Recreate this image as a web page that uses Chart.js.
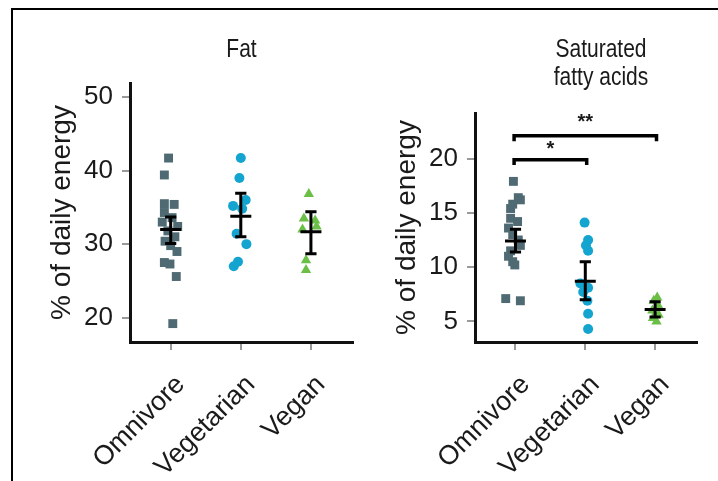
<!DOCTYPE html>
<html>
<head>
<meta charset="utf-8">
<script src="https://cdn.jsdelivr.net/npm/chart.js@4.4.0/dist/chart.umd.min.js"></script>
<style>
  body { margin: 0; background: #fff; width: 718px; height: 481px; overflow: hidden; position: relative; }
  #frame { position: absolute; left: 11px; top: 8px; width: 800px; height: 600px; border-left: 2px solid #000; border-top: 2px solid #000; }
  canvas { position: absolute; }
  #fatChart { left: 20px; top: 20px; }
  #satChart { left: 365px; top: 20px; }
</style>
</head>
<body>
<div id="frame"></div>
<canvas id="fatChart" width="345" height="461"></canvas>
<canvas id="satChart" width="353" height="461"></canvas>

<script>
// groups
const groups = ["Omnivore", "Vegetarian", "Vegan"];
const colors = ["#4f6a73", "#13a5d0", "#6bbf47"];
const shapes = ["rect", "circle", "triangle"];

// Fat (% of daily energy)
const fatOmni = [41.7, 39.4, 35.5, 35.4, 34.3, 33.6, 33.0, 32.4, 31.8, 31.0, 30.4, 29.8, 29.0, 27.5, 27.3, 25.6, 19.2];
const fatOmniJit = [-0.03, -0.09, -0.09, 0.05, -0.09, 0.02, -0.12, 0.1, -0.04, 0.06, -0.08, 0.0, 0.09, -0.09, -0.01, 0.08, 0.03];
const fatVeg = [41.7, 39.0, 36.0, 35.2, 34.8, 31.4, 30.0, 27.6, 27.0];
const fatVegJit = [0, -0.02, 0.07, -0.11, 0.02, -0.06, 0.08, -0.04, -0.1];
const fatVegan = [36.8, 33.5, 33.2, 32.4, 32.0, 27.8, 26.5];
const fatVeganJit = [-0.03, -0.1, 0.06, 0.08, -0.12, -0.07, -0.07];
const fatMean = [32.0, 33.8, 31.7];
const fatLo = [30.1, 31.0, 28.7];
const fatHi = [33.7, 36.9, 34.4];
const fatTicks = [20, 30, 40, 50];

// Saturated fatty acids (% of daily energy)
const satOmni = [17.9, 16.4, 16.2, 15.8, 15.4, 14.5, 14.2, 13.6, 13.0, 12.5, 12.0, 11.5, 11.0, 10.5, 10.2, 7.1, 6.9];
const satOmniJit = [-0.03, 0.04, 0.07, -0.04, -0.07, -0.07, 0.03, -0.1, -0.04, 0.04, 0.07, -0.07, -0.1, -0.04, -0.01, -0.14, 0.07];
const satVeg = [14.1, 12.5, 12.0, 11.5, 8.5, 8.1, 7.7, 6.9, 5.7, 4.3];
const satVegJit = [-0.01, 0.04, 0.01, 0.04, -0.07, 0.04, -0.03, 0.03, 0.04, 0.04];
const satVegan = [7.2, 6.9, 6.4, 6.0, 5.6, 5.3, 5.0];
const satVeganJit = [0.03, -0.02, 0.05, -0.04, 0.05, -0.03, 0.02];
const satMean = [12.4, 8.7, 6.1];
const satLo = [11.4, 7.0, 5.4];
const satHi = [13.5, 10.5, 6.8];
const satTicks = [5, 10, 15, 20];

// significance brackets: [from group, to group, height, label]
const sigFrom = [1, 1];
const sigTo = [2, 3];
const sigY = [19.9, 22.1];
const sigLabel = ["*", "**"];

const FONT = "'Liberation Sans', Arial, sans-serif";
const INK = "#1a1a1a";

function pts(vals, jit, g) {
  return vals.map((v, i) => ({ x: g + jit[i], y: v }));
}

// mean line + sem whiskers as one broken line
function errorBars(mean, lo, hi) {
  const d = [];
  mean.forEach((m, i) => {
    const g = i + 1;
    d.push({ x: g - 0.15, y: m }, { x: g + 0.15, y: m }, { x: g, y: null });
    d.push({ x: g, y: lo[i] }, { x: g, y: hi[i] }, { x: g, y: null });
    d.push({ x: g - 0.08, y: hi[i] }, { x: g + 0.08, y: hi[i] }, { x: g, y: null });
    d.push({ x: g - 0.08, y: lo[i] }, { x: g + 0.08, y: lo[i] }, { x: g, y: null });
  });
  return d;
}

function brackets() {
  const d = [];
  sigFrom.forEach((f, i) => {
    const t = sigTo[i], y = sigY[i];
    d.push({ x: f - 0.02, y: y - 0.5 }, { x: f - 0.02, y: y }, { x: t + 0.02, y: y }, { x: t + 0.02, y: y - 0.5 }, { x: t, y: null });
  });
  return d;
}

function groupSets(series, jits) {
  return series.map((s, i) => ({
    type: "scatter",
    data: pts(s, jits[i], i + 1),
    pointStyle: shapes[i],
    pointRadius: i === 0 ? 6.3 : (i === 1 ? 5 : 6),
    backgroundColor: colors[i],
    borderWidth: 0,
    order: 2
  }));
}

// panel titles (slightly condensed like the figure) and significance stars
const panelText = {
  id: "panelText",
  afterDraw(chart, args, opts) {
    const ctx = chart.ctx;
    const a = chart.chartArea;
    ctx.save();
    ctx.fillStyle = INK;
    ctx.textAlign = "center";
    ctx.textBaseline = "middle";
    ctx.font = "25px " + FONT;
    const cx = (a.left + a.right) / 2 + opts.dx;
    opts.lines.forEach((t, i) => {
      ctx.save();
      ctx.translate(cx, opts.top + i * 28);
      ctx.scale(0.84, 1);
      ctx.fillText(t, 0, 0);
      ctx.restore();
    });
    if (opts.stars) {
      const xs = chart.scales.x, ys = chart.scales.y;
      ctx.font = "bold 20px " + FONT;
      sigLabel.forEach((s, i) => {
        const x = xs.getPixelForValue((sigFrom[i] + sigTo[i]) / 2);
        const y = ys.getPixelForValue(sigY[i]) - 10 - i * 3;
        ctx.fillText(s, x, y);
      });
    }
    ctx.restore();
  }
};

function makeChart(id, sets, ymin, ymax, ticks, padTop, padRight, titleLines, dx, stars) {
  return new Chart(document.getElementById(id), {
    type: "scatter",
    data: { datasets: sets },
    plugins: [panelText],
    options: {
      responsive: false,
      animation: false,
      layout: { padding: { top: padTop, right: padRight, left: 0, bottom: 0 } },
      plugins: {
        legend: { display: false },
        tooltip: { enabled: false },
        panelText: { lines: titleLines, top: 30, dx: dx, stars: stars }
      },
      scales: {
        x: {
          type: "linear",
          min: 0.42,
          max: 3.6,
          afterBuildTicks: s => { s.ticks = [1, 2, 3].map(v => ({ value: v })); },
          afterFit: s => { s.height = 139; },
          ticks: {
            autoSkip: false,
            minRotation: 45,
            maxRotation: 45,
            padding: 19,
            labelOffset: 10,
            color: INK,
            font: { family: FONT, size: 27 },
            callback: v => groups[v - 1]
          },
          grid: { drawOnChartArea: false, tickLength: 8, color: "#9a9a9a", lineWidth: 2 },
          border: { display: true, color: "#111", width: 3 }
        },
        y: {
          min: ymin,
          max: ymax,
          afterBuildTicks: s => { s.ticks = ticks.map(v => ({ value: v })); },
          afterFit: s => { s.width = 110; },
          ticks: { color: INK, padding: 9, font: { family: FONT, size: 26 } },
          grid: { drawOnChartArea: false, tickLength: 8, color: "#9a9a9a", lineWidth: 2 },
          border: { display: true, color: "#111", width: 3 },
          title: {
            display: true,
            text: "% of daily energy",
            color: INK,
            font: { family: FONT, size: 28 },
            padding: { top: 25, bottom: 0 }
          }
        }
      }
    }
  });
}

const fatSets = groupSets([fatOmni, fatVeg, fatVegan], [fatOmniJit, fatVegJit, fatVeganJit]);
fatSets.push({
  type: "line", data: errorBars(fatMean, fatLo, fatHi), borderColor: "#000", borderWidth: 3,
  pointRadius: 0, spanGaps: false, fill: false, order: 1
});
makeChart("fatChart", fatSets, 16.7, 51.9, fatTicks, 63, 12, ["Fat"], 0, false);

const satSets = groupSets([satOmni, satVeg, satVegan], [satOmniJit, satVegJit, satVeganJit]);
satSets.push({
  type: "line", data: errorBars(satMean, satLo, satHi), borderColor: "#000", borderWidth: 3,
  pointRadius: 0, spanGaps: false, fill: false, order: 1
});
satSets.push({
  type: "line", data: brackets(), borderColor: "#000", borderWidth: 3.5,
  pointRadius: 0, spanGaps: false, fill: false, order: 1
});
makeChart("satChart", satSets, 3.1, 24.2, satTicks, 93, 21, ["Saturated", "fatty acids"], 15, true);
</script>
</body>
</html>
